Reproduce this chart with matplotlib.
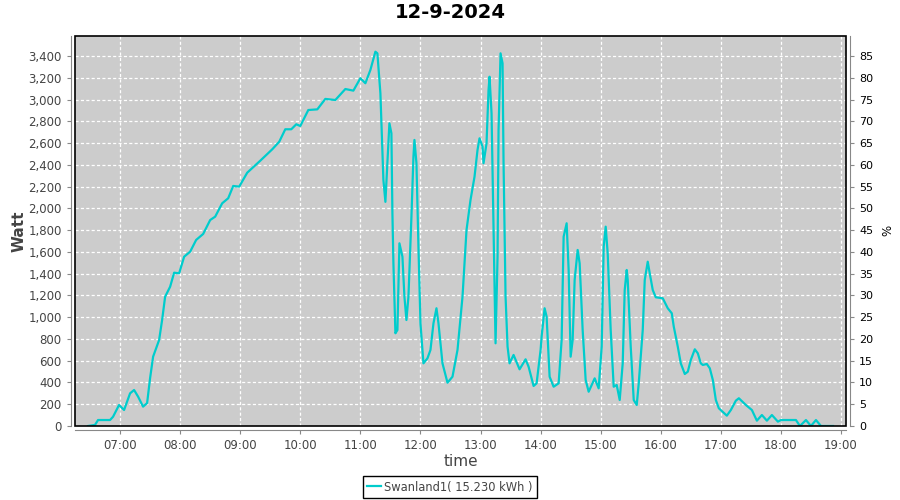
import numpy as np
import matplotlib
matplotlib.use('Agg')
import matplotlib.pyplot as plt
from matplotlib.patches import Rectangle

times = ['06:28', '06:35', '06:38', '06:50', '06:53', '06:59', '07:04', '07:10', '07:14', '07:18',
         '07:23', '07:27', '07:30', '07:33', '07:39', '07:42', '07:45', '07:50', '07:54', '07:59',
         '08:04', '08:10', '08:16', '08:23', '08:30', '08:35', '08:42', '08:48', '08:53', '08:59',
         '09:07', '09:20', '09:32', '09:39', '09:45', '09:51', '09:56', '10:00', '10:08', '10:17',
         '10:25', '10:35', '10:45', '10:53', '11:00', '11:05', '11:10', '11:15', '11:17', '11:20',
         '11:22', '11:23', '11:25', '11:27', '11:29', '11:31', '11:32', '11:33', '11:35', '11:37',
         '11:39', '11:42', '11:44', '11:46', '11:48', '11:51', '11:53', '11:54', '11:56', '11:58',
         '12:00', '12:03', '12:07', '12:10', '12:13', '12:16', '12:18', '12:22', '12:27', '12:32',
         '12:37', '12:42', '12:46', '12:50', '12:54', '12:57', '12:59', '13:02', '13:03', '13:06',
         '13:08', '13:09', '13:11', '13:13', '13:15', '13:17', '13:18', '13:20', '13:22', '13:23',
         '13:25', '13:27', '13:29', '13:33', '13:39', '13:45', '13:48', '13:53', '13:56', '14:00',
         '14:01', '14:04', '14:06', '14:09', '14:13', '14:18', '14:21', '14:23', '14:26', '14:28',
         '14:30', '14:32', '14:34', '14:37', '14:39', '14:42', '14:45', '14:48', '14:54', '14:58',
         '15:01', '15:03', '15:05', '15:07', '15:10', '15:13', '15:16', '15:19', '15:22', '15:24',
         '15:26', '15:27', '15:30', '15:33', '15:36', '15:38', '15:42', '15:44', '15:47', '15:49',
         '15:52', '15:55', '16:02', '16:07', '16:11', '16:13', '16:17', '16:20', '16:24', '16:27',
         '16:30', '16:34', '16:37', '16:40', '16:42', '16:46', '16:49', '16:52', '16:55', '16:58',
         '17:06', '17:10', '17:15', '17:18', '17:25', '17:31', '17:36', '17:41', '17:46', '17:51',
         '17:57', '18:00', '18:15', '18:19', '18:25', '18:30', '18:35', '18:40', '18:52']
watt = [0, 10, 55, 55, 85, 193, 147, 300, 331, 270,
        178, 210, 440, 637, 790, 974, 1188, 1280, 1409, 1403,
        1556, 1602, 1710, 1765, 1893, 1924, 2047, 2093, 2206, 2200,
        2328, 2438, 2543, 2613, 2727, 2727, 2773, 2757, 2904, 2910,
        3006, 2996, 3097, 3082, 3196, 3150, 3272, 3440, 3425, 3058,
        2537, 2261, 2060, 2415, 2782, 2690, 1955, 1495, 852, 882,
        1679, 1556, 1188, 974, 1188, 1924, 2475, 2629, 2415, 1648,
        944, 576, 622, 699, 944, 1082, 944, 576, 398, 453,
        699, 1188, 1801, 2077, 2291, 2537, 2644, 2567, 2415, 2598,
        3088, 3210, 2874, 1801, 760, 1556, 2721, 3425, 3333, 2415,
        1188, 729, 576, 653, 521, 613, 545, 368, 392, 699,
        821, 1082, 1005, 453, 361, 392, 790, 1740, 1863, 1434,
        637, 790, 1342, 1618, 1495, 882, 423, 315, 438, 346,
        729, 1648, 1832, 1587, 882, 361, 377, 239, 576, 1250,
        1434, 1342, 729, 239, 193, 392, 882, 1342, 1510, 1403,
        1250, 1183, 1174, 1082, 1036, 913, 729, 576, 478, 499,
        607, 705, 668, 576, 561, 570, 530, 423, 239, 163,
        95, 147, 233, 255, 193, 147, 49, 101, 49, 101,
        40, 55, 55, 0, 55, 0, 55, 0, 0]

hour_labels = ['07:00', '08:00', '09:00', '10:00', '11:00', '12:00', '13:00',
               '14:00', '15:00', '16:00', '17:00', '18:00', '19:00']
y_ticks = list(range(0, 3401, 200))
pct_ticks = list(range(0, 86, 5))

def to_hours(s):
    h, m = s.split(':')
    return int(h) + int(m) / 60.0

x = np.array([to_hours(t) for t in times])
y = np.array(watt)
hour_pos = [to_hours(t) for t in hour_labels]

grey = '#444444'
axis_grey = '#888888'

fig = plt.figure(figsize=(9, 5), dpi=100)
ax = fig.add_axes([75/900, 1-426/500, (846-75)/900, (426-35.7)/500])
ax.set_facecolor('#cccccc')

ax.plot(x, y, color='#00cccc', lw=1.6, zorder=3, solid_joinstyle='round')

ax.set_xlim(to_hours('06:15'), to_hours('19:05'))
ax.set_ylim(0, 3587)
ax.set_xticks(hour_pos)
ax.set_xticklabels(hour_labels)
ax.set_yticks(y_ticks)
ax.set_yticklabels(['{:,}'.format(v) for v in y_ticks])
ax.grid(True, color='white', ls=(0, (2.5, 1.8)), lw=0.9)
ax.set_axisbelow(True)

for s in ['top', 'right']:
    ax.spines[s].set_visible(False)
for s in ['left', 'bottom']:
    ax.spines[s].set_position(('outward', 3))
    ax.spines[s].set_color(axis_grey)
ax.tick_params(colors=axis_grey, labelcolor=grey, labelsize=8.5, length=3, width=0.8)

# zwarte rand om het plotvlak
ax.add_patch(Rectangle((0, 0), 1, 1, transform=ax.transAxes, fill=False,
                       ec='black', lw=1.2, zorder=5, clip_on=False))

ax.set_xlabel('time', fontsize=11, color=grey, labelpad=1)
ax.set_ylabel('Watt', fontsize=11, color=grey, fontweight='bold', labelpad=1)

ax2 = ax.twinx()
ax2.set_ylim(0, 3587 / 40)
ax2.set_yticks(pct_ticks)
for s in ['top', 'left', 'bottom']:
    ax2.spines[s].set_visible(False)
ax2.spines['right'].set_position(('outward', 3))
ax2.spines['right'].set_color(axis_grey)
ax2.tick_params(colors=axis_grey, labelcolor='black', labelsize=8, length=3, width=0.8)
ax2.set_ylabel('%', fontsize=8.5, labelpad=6)

fig.suptitle('12-9-2024', fontsize=14, fontweight='bold', y=0.995)

fig.legend([ax.lines[0]], ['Swanland1( 15.230 kWh )'], loc='center',
           bbox_to_anchor=(0.5, 0.026), fontsize=8.3, fancybox=False,
           edgecolor='black', framealpha=1, handlelength=1.2, handletextpad=0.3,
           borderpad=0.35, labelcolor=grey)

fig.savefig('out.png', dpi=100)
